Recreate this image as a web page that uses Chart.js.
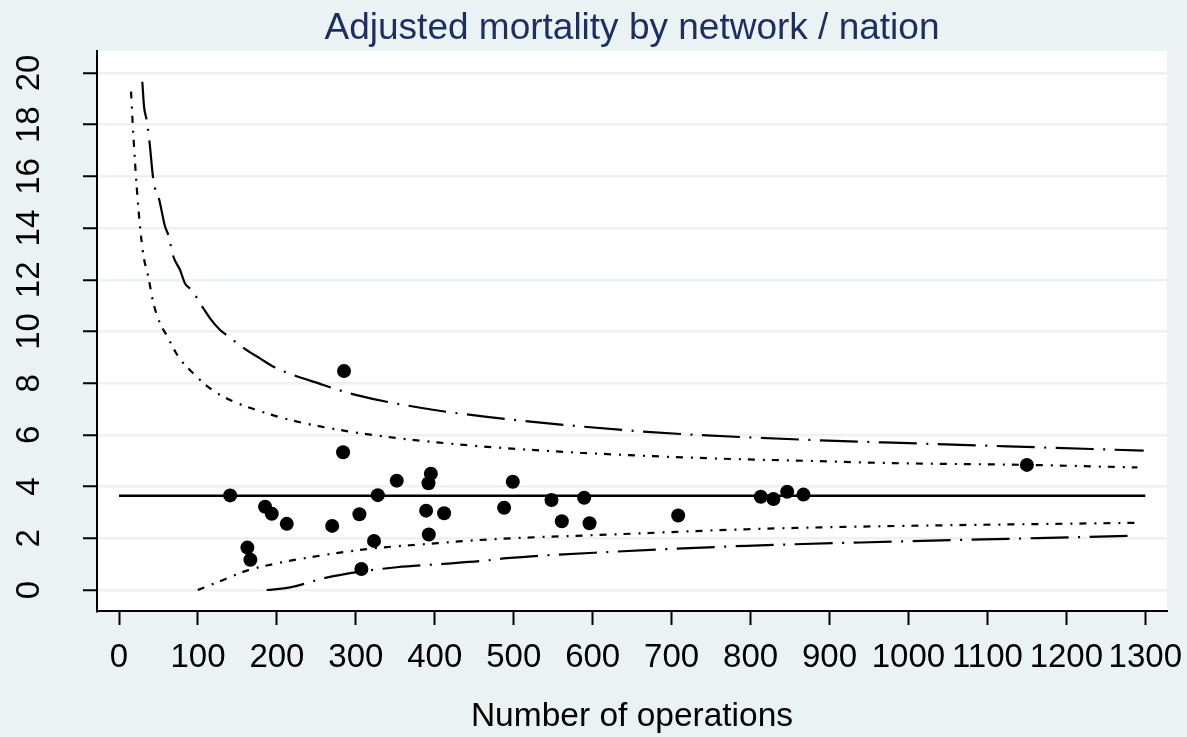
<!DOCTYPE html>
<html>
<head>
<meta charset="utf-8">
<script src="https://cdn.jsdelivr.net/npm/chart.js@4.4.1/dist/chart.umd.min.js"></script>
<style>
html,body{margin:0;padding:0;background:#EAF2F3;}
canvas{display:block;}
</style>
</head>
<body>
<canvas id="c" width="1187" height="737"></canvas>
<script>
// ---- data ----
const opsX = [140.8, 162.6, 166.4, 185, 193.5, 212.5, 270, 283.8, 285, 304.5, 307, 323, 327.8, 351.8, 389, 392, 392.4, 395, 411.8, 487.8, 498.8, 547.8, 560.9, 589.2, 596, 708.3, 813, 829, 846.4, 867, 1150];
const mortalityY = [3.66, 1.64, 1.17, 3.22, 2.95, 2.56, 2.48, 5.33, 8.47, 2.93, 0.81, 1.90, 3.67, 4.23, 3.07, 4.13, 2.15, 4.50, 2.97, 3.18, 4.19, 3.48, 2.66, 3.57, 2.58, 2.88, 3.61, 3.52, 3.80, 3.69, 4.84];

const meanX = [0, 1300];
const meanRate = 3.65;

const upperOuterX = [29.5, 31.7, 35, 38.4, 43.5, 51, 58.3, 62.5, 68.8, 77.3, 83.6, 92, 106.8, 115.3, 128, 136.4, 161.8, 178.6, 195.5, 258.9, 301, 385.6, 466, 668.6, 879.8, 1010.7, 1298];
const upperOuterY = [19.66, 18.7, 18.18, 17.4, 15.86, 15.09, 14.06, 13.73, 12.9, 12.38, 11.86, 11.6, 10.9, 10.51, 10.06, 9.86, 9.28, 8.96, 8.64, 7.93, 7.54, 7.03, 6.70, 6.12, 5.80, 5.67, 5.39];

const upperInnerX = [15.2, 18, 22.4, 26.6, 30.8, 37.1, 43.5, 51.9, 60.4, 75.1, 98.5, 115.3, 140.6, 174.5, 216.7, 280, 343.4, 406.7, 466, 584, 753, 880, 977, 1150, 1290];
const upperInnerY = [19.28, 17.67, 15.6, 14.06, 12.96, 12.12, 11.1, 10.32, 9.85, 9.03, 8.25, 7.80, 7.35, 6.96, 6.58, 6.19, 5.91, 5.70, 5.54, 5.31, 5.09, 4.99, 4.91, 4.84, 4.74];

const lowerInnerX = [99.7, 132, 161.8, 199.8, 258.9, 322.2, 385.6, 470, 626, 795, 934.7, 1289.5];
const lowerInnerY = [0.00, 0.39, 0.75, 1.03, 1.35, 1.61, 1.77, 1.96, 2.15, 2.35, 2.45, 2.60];

const lowerOuterX = [187, 216.7, 258.9, 305.4, 352, 411, 461.6, 491, 626, 795, 980, 1289.5];
const lowerOuterY = [0.00, 0.10, 0.45, 0.71, 0.88, 1.01, 1.13, 1.23, 1.48, 1.71, 1.87, 2.10];

const xTickValues = [0, 100, 200, 300, 400, 500, 600, 700, 800, 900, 1000, 1100, 1200, 1300];
const yTickValues = [0, 2, 4, 6, 8, 10, 12, 14, 16, 18, 20];

const titleText = 'Adjusted mortality by network / nation';
const xTitleText = 'Number of operations';

// ---- helpers ----
const pts = (xs, ys) => xs.map((x, i) => ({x: x, y: Array.isArray(ys) ? ys[i] : ys}));
const FONT = "'Liberation Sans', Arial, Helvetica, sans-serif";
Chart.defaults.font.family = FONT;
Chart.defaults.color = '#000';

const bgPlugin = {
  id: 'bg',
  beforeDraw(chart) {
    const {ctx, chartArea: a} = chart;
    ctx.save();
    ctx.fillStyle = '#EAF2F3';
    ctx.fillRect(0, 0, chart.width, chart.height);
    ctx.fillStyle = '#FFFFFF';
    ctx.fillRect(a.left, a.top, a.right - a.left, a.bottom - a.top);
    ctx.restore();
  }
};

const textPlugin = {
  id: 'texts',
  afterDraw(chart) {
    const {ctx, chartArea: a} = chart;
    const ys = chart.scales.y;
    ctx.save();
    // title centred over the plot region
    ctx.font = '37px ' + FONT;
    ctx.fillStyle = '#1D2F5E';
    ctx.textAlign = 'center';
    ctx.textBaseline = 'alphabetic';
    ctx.fillText(titleText, (a.left + a.right) / 2, 38.5);
    // rotated y tick labels
    ctx.font = '33px ' + FONT;
    ctx.fillStyle = '#000';
    ctx.textBaseline = 'middle';
    yTickValues.forEach(v => {
      const py = ys.getPixelForValue(v);
      ctx.save();
      ctx.translate(30, py);
      ctx.rotate(-Math.PI / 2);
      ctx.fillText(String(v), 0, 0);
      ctx.restore();
    });
    ctx.restore();
  }
};

const curveStyle = (dash) => ({
  type: 'line',
  borderColor: '#000',
  borderWidth: 2.2,
  borderDash: dash,
  pointRadius: 0,
  fill: false,
  cubicInterpolationMode: 'monotone',
  order: 2
});

new Chart(document.getElementById('c'), {
  type: 'scatter',
  data: {
    datasets: [
      {
        type: 'scatter',
        data: pts(opsX, mortalityY),
        pointRadius: 7,
        pointBackgroundColor: '#000',
        pointBorderWidth: 0,
        borderColor: '#000',
        order: 0
      },
      {
        type: 'line',
        data: pts(meanX, meanRate),
        borderColor: '#000',
        borderWidth: 2.5,
        pointRadius: 0,
        fill: false,
        order: 1
      },
      Object.assign({data: pts(upperOuterX, upperOuterY)}, curveStyle([38, 9.5, 2, 9.5])),
      Object.assign({data: pts(upperInnerX, upperInnerY)}, curveStyle([7, 8, 2, 7])),
      Object.assign({data: pts(lowerInnerX, lowerInnerY)}, curveStyle([7, 8, 2, 7])),
      Object.assign({data: pts(lowerOuterX, lowerOuterY)}, curveStyle([38, 9.5, 2, 9.5]))
    ]
  },
  options: {
    responsive: false,
    animation: false,
    events: [],
    layout: {padding: {left: 0, right: 20, top: 51, bottom: 0}},
    plugins: {
      legend: {display: false},
      tooltip: {enabled: false},
      title: {display: false}
    },
    scales: {
      x: {
        type: 'linear',
        min: -27.9,
        max: 1327.5,
        afterBuildTicks: s => { s.ticks = xTickValues.map(v => ({value: v})); },
        afterFit: s => { s.height = 126; s.paddingLeft = 0; s.paddingRight = 0; },
        ticks: {
          font: {size: 33, family: FONT},
          color: '#000',
          padding: 13,
          maxRotation: 0,
          minRotation: 0,
          autoSkip: false,
          callback: v => String(v)
        },
        grid: {
          display: true,
          drawOnChartArea: false,
          drawTicks: true,
          tickLength: 14,
          tickColor: '#000',
          tickWidth: 2
        },
        border: {display: true, color: '#000', width: 2},
        title: {
          display: true,
          text: xTitleText,
          color: '#000',
          font: {size: 33.5, family: FONT, lineHeight: 1.2},
          padding: {top: 0, bottom: 0}
        }
      },
      y: {
        type: 'linear',
        min: -0.812,
        max: 20.851,
        afterBuildTicks: s => { s.ticks = yTickValues.map(v => ({value: v})); },
        afterFit: s => { s.width = 97; s.paddingTop = 0; s.paddingBottom = 0; },
        ticks: {display: false},
        grid: {
          display: true,
          drawOnChartArea: true,
          color: '#EAF2F3',
          lineWidth: 2.5,
          drawTicks: true,
          tickLength: 14,
          tickColor: '#000',
          tickWidth: 2
        },
        border: {display: true, color: '#000', width: 2}
      }
    }
  },
  plugins: [bgPlugin, textPlugin]
});
</script>
</body>
</html>
